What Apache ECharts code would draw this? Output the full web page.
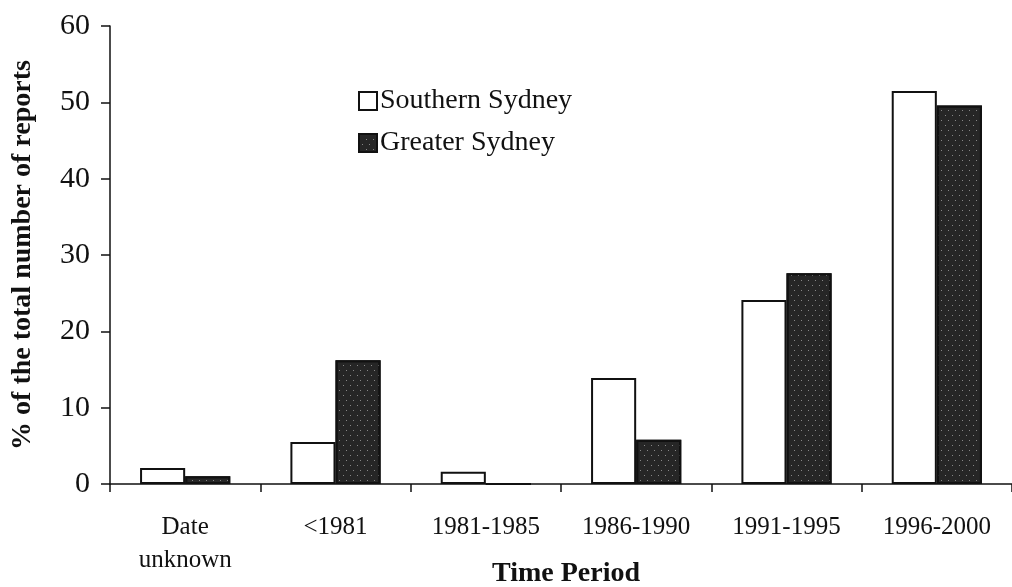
<!DOCTYPE html>
<html>
<head>
<meta charset="utf-8">
<script src="https://cdn.jsdelivr.net/npm/echarts@6/dist/echarts.min.js"></script>
<style>
  body { margin: 0; padding: 0; background: #fff; }
  #chart { width: 1012px; height: 587px; }
</style>
</head>
<body>
<div id="chart"></div>
<script>
  // data
  var periods = ['Date\nunknown', '<1981', '1981-1985', '1986-1990', '1991-1995', '1996-2000'];
  var southern = [2.1, 5.5, 1.6, 13.9, 24.1, 51.5];
  var greater = [1.0, 16.2, 0, 5.8, 27.6, 49.6];
  var yTicks = [0, 10, 20, 30, 40, 50, 60];

  var serif = 'Liberation Serif';
  var chart = echarts.init(document.getElementById('chart'));

  // stipple on the dark bars
  var stipple = {
    symbol: 'rect',
    symbolSize: 1,
    color: 'rgba(255,255,255,0.45)',
    dashArrayX: [[1, 6], [0, 3, 1, 3]],
    dashArrayY: [1, 4],
    rotation: 0
  };

  var option = {
    animation: false,
    backgroundColor: '#fff',
    textStyle: { fontFamily: serif, color: '#111' },
    grid: { left: 110, right: 0, top: 26, bottom: 103, containLabel: false, outerBoundsMode: 'none' },
    legend: {
      orient: 'vertical',
      left: 353,
      top: 82,
      itemWidth: 18,
      itemHeight: 18,
      itemGap: 14,
      icon: 'rect',
      textStyle: { fontFamily: serif, fontSize: 28, color: '#111', padding: [0, 0, 0, -2] },
      data: ['Southern Sydney', 'Greater Sydney']
    },
    xAxis: {
      type: 'category',
      data: periods,
      name: 'Time Period',
      nameLocation: 'middle',
      nameGap: 90,
      nameMoveOverlap: false,
      nameTextStyle: { fontFamily: serif, fontSize: 28, fontWeight: 'bold', color: '#111', verticalAlign: 'middle', padding: [0, 0, 0, 10] },
      axisLine: { lineStyle: { color: '#111', width: 1.5 } },
      axisTick: { show: true, length: 8, lineStyle: { color: '#111', width: 1.5 } },
      axisLabel: { fontFamily: serif, fontSize: 25, color: '#111', margin: 27, lineHeight: 33 }
    },
    yAxis: {
      type: 'value',
      min: yTicks[0],
      max: yTicks[yTicks.length - 1],
      interval: 10,
      name: '% of the total number of reports',
      nameLocation: 'middle',
      nameGap: 87,
      nameMoveOverlap: false,
      nameTextStyle: { fontFamily: serif, fontSize: 28, fontWeight: 'bold', color: '#111', verticalAlign: 'middle' },
      splitLine: { show: false },
      axisLine: { show: true, lineStyle: { color: '#111', width: 1.5 } },
      axisTick: { show: true, length: 9, lineStyle: { color: '#111', width: 1.5 } },
      axisLabel: { fontFamily: serif, fontSize: 30, color: '#111', margin: 20 }
    },
    series: [
      {
        name: 'Southern Sydney',
        type: 'bar',
        data: southern,
        barGap: '0%',
        barCategoryGap: '40%',
        itemStyle: { color: '#fff', borderColor: '#111', borderWidth: 2 }
      },
      {
        name: 'Greater Sydney',
        type: 'bar',
        data: greater,
        itemStyle: { color: '#262626', borderColor: '#111', borderWidth: 2, decal: stipple }
      }
    ]
  };
  chart.setOption(option);
</script>
</body>
</html>
